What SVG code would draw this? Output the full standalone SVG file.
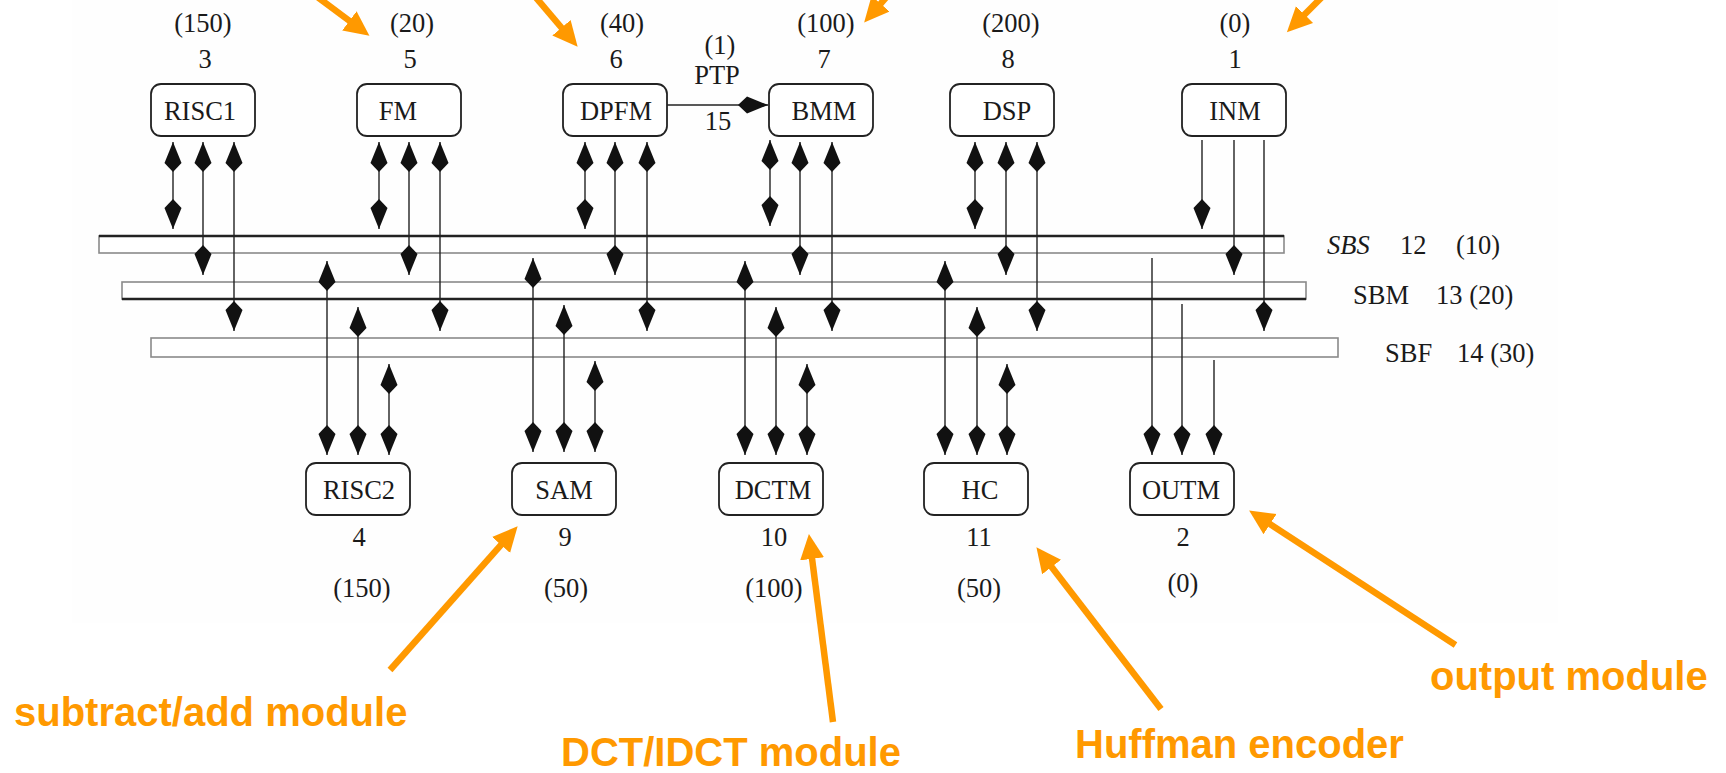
<svg xmlns="http://www.w3.org/2000/svg" width="1726" height="773" viewBox="0 0 1726 773">
<style>
.box{fill:#fff;stroke:#222;stroke-width:1.8}
.t{font-family:"Liberation Serif","Times New Roman",serif;font-size:26.5px;fill:#1a1a1a;text-anchor:middle}
.tl{font-family:"Liberation Serif","Times New Roman",serif;font-size:26.5px;fill:#1a1a1a}
.bus{fill:#fff;stroke:#8a8a8a;stroke-width:1.6}
.busdark{stroke:#222;stroke-width:2.6}
.c{stroke:#222;stroke-width:1.4;fill:none}
.d{marker-start:url(#k);marker-end:url(#k)}
.e{marker-end:url(#k)}
.oa{stroke:#ff9900;stroke-width:6.5;fill:none;marker-end:url(#oh)}
.o{font-family:"Liberation Sans",Arial,sans-serif;font-weight:bold;font-size:40px;fill:#ff9900}
</style>
<defs>
<marker id="k" viewBox="0 -10 31 20" refX="30" refY="0" markerWidth="31" markerHeight="20" markerUnits="userSpaceOnUse" orient="auto-start-reverse">
<path d="M0,0 L9,-8.5 L30,0 L9,8.5 Z" fill="#111"/>
</marker>
<marker id="oh" viewBox="0 -13 26 26" refX="7" refY="0" markerWidth="26" markerHeight="26" markerUnits="userSpaceOnUse" orient="auto">
<path d="M0,-12 L25,0 L0,12 Z" fill="#ff9900"/>
</marker>
</defs>
<rect x="0" y="0" width="1726" height="773" fill="#fff"/>
<rect x="72" y="0" width="1486" height="623" fill="#fefefe"/>

<g id="bus-SBS">
<rect class="bus" x="99" y="236" width="1185" height="17"/>
<line class="busdark" x1="99" y1="236" x2="1284" y2="236"/>
<text class="tl" x="1327" y="254" font-style="italic">SBS</text>
<text class="tl" x="1400" y="254">12</text>
<text class="tl" x="1456" y="254">(10)</text>
</g>
<g id="bus-SBM">
<rect class="bus" x="122" y="282" width="1184" height="17"/>
<line class="busdark" x1="122" y1="299" x2="1306" y2="299"/>
<text class="tl" x="1353" y="304">SBM</text>
<text class="tl" x="1436" y="304">13 (20)</text>
</g>
<g id="bus-SBF">
<rect class="bus" x="151" y="338" width="1187" height="19"/>
<text class="tl" x="1385" y="362">SBF</text>
<text class="tl" x="1457" y="362">14 (30)</text>
</g>

<g id="connectors">
<line class="c d" x1="173" y1="142" x2="173" y2="229"/>
<line class="c d" x1="203" y1="142" x2="203" y2="275"/>
<line class="c d" x1="234" y1="142" x2="234" y2="331"/>
<line class="c d" x1="379" y1="142" x2="379" y2="229"/>
<line class="c d" x1="409" y1="142" x2="409" y2="275"/>
<line class="c d" x1="440" y1="142" x2="440" y2="331"/>
<line class="c d" x1="585" y1="142" x2="585" y2="229"/>
<line class="c d" x1="615" y1="142" x2="615" y2="275"/>
<line class="c d" x1="647" y1="142" x2="647" y2="331"/>
<line class="c d" x1="770" y1="140" x2="770" y2="226"/>
<line class="c d" x1="800" y1="142" x2="800" y2="275"/>
<line class="c d" x1="832" y1="142" x2="832" y2="331"/>
<line class="c d" x1="975" y1="142" x2="975" y2="229"/>
<line class="c d" x1="1006" y1="142" x2="1006" y2="275"/>
<line class="c d" x1="1037" y1="142" x2="1037" y2="331"/>
<line class="c e" x1="1202" y1="140" x2="1202" y2="229"/>
<line class="c e" x1="1234" y1="140" x2="1234" y2="275"/>
<line class="c e" x1="1264" y1="140" x2="1264" y2="331"/>
<line class="c d" x1="327" y1="261" x2="327" y2="455"/>
<line class="c d" x1="358" y1="307" x2="358" y2="455"/>
<line class="c d" x1="389" y1="364" x2="389" y2="455"/>
<line class="c d" x1="533" y1="258" x2="533" y2="452"/>
<line class="c d" x1="564" y1="305" x2="564" y2="452"/>
<line class="c d" x1="595" y1="361" x2="595" y2="452"/>
<line class="c d" x1="745" y1="261" x2="745" y2="455"/>
<line class="c d" x1="776" y1="307" x2="776" y2="455"/>
<line class="c d" x1="807" y1="364" x2="807" y2="455"/>
<line class="c d" x1="945" y1="261" x2="945" y2="455"/>
<line class="c d" x1="977" y1="307" x2="977" y2="455"/>
<line class="c d" x1="1007" y1="364" x2="1007" y2="455"/>
<line class="c e" x1="1152" y1="258" x2="1152" y2="455"/>
<line class="c e" x1="1182" y1="304" x2="1182" y2="455"/>
<line class="c e" x1="1214" y1="360" x2="1214" y2="455"/>
<line class="c e" x1="667" y1="105" x2="768" y2="105"/>
<text class="t" x="720" y="54">(1)</text>
<text class="t" x="717" y="84">PTP</text>
<text class="t" x="718" y="130">15</text>
</g>

<g id="node-RISC1">
<rect class="box" x="151" y="84" width="104" height="52" rx="10"/>
<text class="t" x="200" y="119.5">RISC1</text>
<text class="t" x="205" y="68">3</text>
<text class="t" x="203" y="32">(150)</text>
</g>
<g id="node-FM">
<rect class="box" x="357" y="84" width="104" height="52" rx="10"/>
<text class="t" x="398" y="119.5">FM</text>
<text class="t" x="410" y="68">5</text>
<text class="t" x="412" y="32">(20)</text>
</g>
<g id="node-DPFM">
<rect class="box" x="563" y="84" width="104" height="52" rx="10"/>
<text class="t" x="616" y="119.5">DPFM</text>
<text class="t" x="616" y="68">6</text>
<text class="t" x="622" y="32">(40)</text>
</g>
<g id="node-BMM">
<rect class="box" x="769" y="84" width="104" height="52" rx="10"/>
<text class="t" x="824" y="119.5">BMM</text>
<text class="t" x="824" y="68">7</text>
<text class="t" x="826" y="32">(100)</text>
</g>
<g id="node-DSP">
<rect class="box" x="950" y="84" width="104" height="52" rx="10"/>
<text class="t" x="1007" y="119.5">DSP</text>
<text class="t" x="1008" y="68">8</text>
<text class="t" x="1011" y="32">(200)</text>
</g>
<g id="node-INM">
<rect class="box" x="1182" y="84" width="104" height="52" rx="10"/>
<text class="t" x="1235" y="119.5">INM</text>
<text class="t" x="1235" y="68">1</text>
<text class="t" x="1235" y="32">(0)</text>
</g>

<g id="node-RISC2">
<rect class="box" x="306" y="463" width="104" height="52" rx="10"/>
<text class="t" x="359" y="499">RISC2</text>
<text class="t" x="359" y="546">4</text>
<text class="t" x="362" y="597">(150)</text>
</g>
<g id="node-SAM">
<rect class="box" x="512" y="463" width="104" height="52" rx="10"/>
<text class="t" x="564" y="499">SAM</text>
<text class="t" x="565" y="546">9</text>
<text class="t" x="566" y="597">(50)</text>
</g>
<g id="node-DCTM">
<rect class="box" x="719" y="463" width="104" height="52" rx="10"/>
<text class="t" x="773" y="499">DCTM</text>
<text class="t" x="774" y="546">10</text>
<text class="t" x="774" y="597">(100)</text>
</g>
<g id="node-HC">
<rect class="box" x="924" y="463" width="104" height="52" rx="10"/>
<text class="t" x="980" y="499">HC</text>
<text class="t" x="979" y="546">11</text>
<text class="t" x="979" y="597">(50)</text>
</g>
<g id="node-OUTM">
<rect class="box" x="1130" y="463" width="104" height="52" rx="10"/>
<text class="t" x="1181" y="499">OUTM</text>
<text class="t" x="1183" y="546">2</text>
<text class="t" x="1183" y="592">(0)</text>
</g>

<g id="annotations">
<line class="oa" x1="308" y1="-10" x2="355" y2="25"/>
<line class="oa" x1="529.5" y1="-10" x2="566" y2="33"/>
<line class="oa" x1="892.6" y1="-10" x2="876" y2="9"/>
<line class="oa" x1="1329" y1="-10" x2="1299.6" y2="19.5"/>
<line class="oa" x1="390" y1="670" x2="505.7" y2="539.7"/>
<line class="oa" x1="833" y1="722" x2="811.2" y2="551.9"/>
<line class="oa" x1="1161" y1="709" x2="1047.4" y2="561.5"/>
<line class="oa" x1="1455.5" y1="645" x2="1264.2" y2="520.3"/>
<text class="o" x="14" y="726">subtract/add module</text>
<text class="o" x="561" y="766">DCT/IDCT module</text>
<text class="o" x="1075" y="758">Huffman encoder</text>
<text class="o" x="1430" y="690">output module</text>
</g>
</svg>
